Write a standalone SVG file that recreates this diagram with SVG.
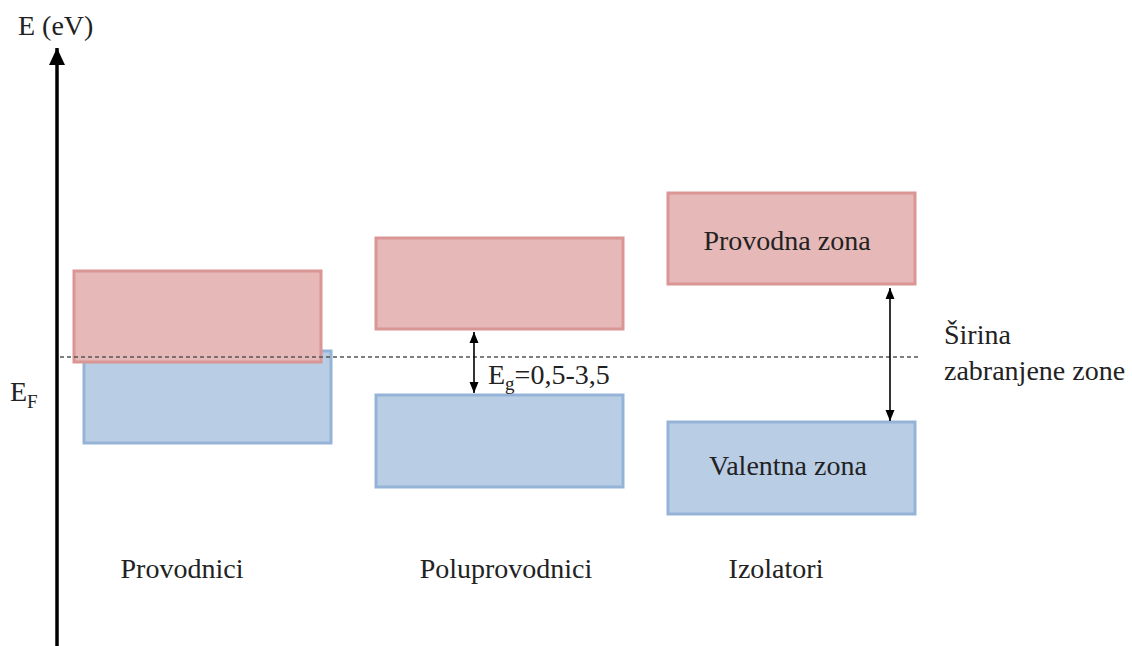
<svg xmlns="http://www.w3.org/2000/svg" width="1132" height="646" viewBox="0 0 1132 646">
  <defs>
    <marker id="axisHead" markerUnits="userSpaceOnUse" markerWidth="18" markerHeight="18" refX="17" refY="9" orient="auto" viewBox="0 0 18 18">
      <path d="M17,9 L0,1 L0,17 Z" fill="#000"/>
    </marker>
    <marker id="gapHead" markerUnits="userSpaceOnUse" markerWidth="11" markerHeight="10" refX="11" refY="5" orient="auto-start-reverse" viewBox="0 0 11 10">
      <path d="M11,5 L0,0.5 L0,9.5 Z" fill="#000"/>
    </marker>
    <style>
      .lbl { font-family: "Liberation Serif", "DejaVu Serif", serif; font-size: 28px; fill: #222; }
      .cond { fill: #e6b9b8; stroke: #d99694; stroke-width: 3; }
      .val { fill: #b9cde5; stroke: #95b3d7; stroke-width: 3; }
      .gap { stroke: #000; stroke-width: 1.6; fill: none; marker-start: url(#gapHead); marker-end: url(#gapHead); }
    </style>
  </defs>

  <rect width="1132" height="646" fill="#fff"/>

  <!-- energy axis -->
  <g id="axis">
    <line x1="57" y1="646" x2="57" y2="48" stroke="#000" stroke-width="3.5" marker-end="url(#axisHead)"/>
    <text class="lbl" x="18" y="35">E (eV)</text>
    <text class="lbl" x="10" y="401">E<tspan font-size="19" dy="7">F</tspan></text>
  </g>

  <!-- conductors: overlapping bands -->
  <g id="provodnici">
    <rect class="val" x="84" y="351" width="247" height="92"/>
    <rect class="cond" x="74" y="271" width="247" height="91"/>
    <text class="lbl" x="182" y="578" text-anchor="middle">Provodnici</text>
  </g>

  <!-- semiconductors -->
  <g id="poluprovodnici">
    <rect class="cond" x="376" y="238" width="247" height="91"/>
    <rect class="val" x="376" y="395" width="247" height="92"/>
    <text class="lbl" x="506" y="578" text-anchor="middle">Poluprovodnici</text>
  </g>

  <!-- insulators -->
  <g id="izolatori">
    <rect class="cond" x="668" y="193" width="247" height="91"/>
    <text class="lbl" x="787" y="250" text-anchor="middle">Provodna zona</text>
    <rect class="val" x="668" y="422" width="247" height="92"/>
    <text class="lbl" x="788" y="475" text-anchor="middle">Valentna zona</text>
    <text class="lbl" x="776" y="578" text-anchor="middle">Izolatori</text>
  </g>

  <!-- Fermi level and band gaps -->
  <g id="connectors">
    <line x1="60" y1="357" x2="918" y2="357" stroke="#555" stroke-width="1.3" stroke-dasharray="4,3"/>
    <line class="gap" x1="474" y1="332" x2="474" y2="393"/>
    <line class="gap" x1="890" y1="288" x2="890" y2="421"/>
  </g>

  <g id="labels">
    <text class="lbl" x="488" y="384">E<tspan font-size="19" dy="6">g</tspan><tspan dy="-6">=0,5-3,5</tspan></text>
    <text class="lbl" x="944" y="344">Širina</text>
    <text class="lbl" x="944" y="380">zabranjene zone</text>
  </g>
</svg>
